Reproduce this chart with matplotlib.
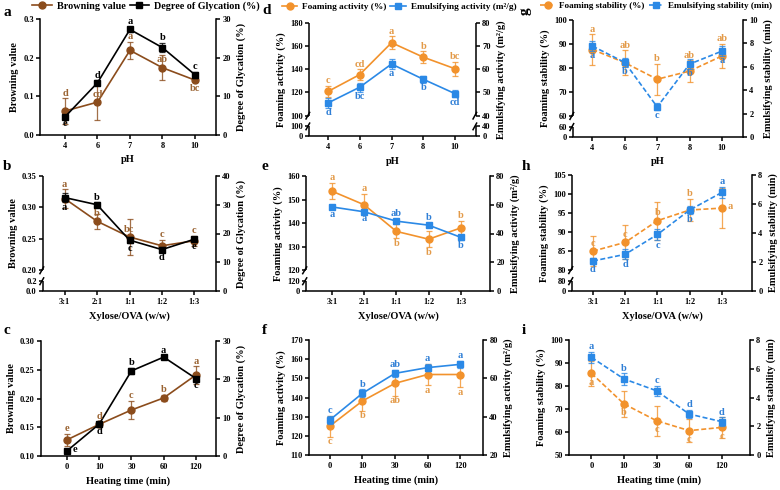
import numpy as np
import matplotlib.pyplot as plt

plt.rcParams['font.family'] = ['Liberation Serif', 'DejaVu Serif']
plt.rcParams['font.weight'] = 'bold'
plt.rcParams['axes.labelweight'] = 'bold'
plt.rcParams['axes.linewidth'] = 1.1
plt.rcParams['xtick.major.width'] = 1.1
plt.rcParams['ytick.major.width'] = 1.1
plt.rcParams['xtick.major.size'] = 3
plt.rcParams['ytick.major.size'] = 3
plt.rcParams['xtick.major.pad'] = 2
plt.rcParams['ytick.major.pad'] = 1.5
plt.rcParams['xtick.labelsize'] = 6
plt.rcParams['ytick.labelsize'] = 6
plt.rcParams['axes.labelsize'] = 7.5

# colours
BROWN, BROWN_TXT = '#8b4c1c', '#9a6332'
ORANGE, ORANGE_TXT = '#f2922c', '#e39a48'
BLUE, BLUE_TXT = '#2b89e6', '#2f7fd6'

# x categories
ph = ['4', '6', '7', '8', '10']
ratio = ['3:1', '2:1', '1:1', '1:2', '1:3']
heat = ['0', '10', '30', '60', '120']

# a - browning / glycation vs pH
brown_ph = [0.062, 0.085, 0.219, 0.174, 0.142]
brown_ph_err = [0.033, 0.046, 0.022, 0.033, 0.006]
brown_ph_sig = ['d', 'cd', 'a', 'ab', 'bc']
dg_ph = [4.7, 13.5, 27.3, 22.6, 15.6]
dg_ph_err = [0.5, 0.6, 0.6, 1.2, 0.8]
dg_ph_sig = ['e', 'd', 'a', 'b', 'c']

# b - browning / glycation vs xylose:OVA
brown_ratio = [0.314, 0.278, 0.253, 0.239, 0.247]
brown_ratio_err = [0.015, 0.012, 0.029, 0.009, 0.008]
brown_ratio_sig = ['a', 'b', 'bc', 'c', 'c']
dg_ratio = [32.5, 30.0, 17.7, 14.4, 18.0]
dg_ratio_err = [1.5, 0.8, 1.0, 1.0, 0.8]
dg_ratio_sig = ['a', 'b', 'c', 'd', 'e']

# c - browning / glycation vs heating time
brown_heat = [0.128, 0.155, 0.180, 0.201, 0.241]
brown_heat_err = [0.010, 0.005, 0.016, 0.005, 0.015]
brown_heat_sig = ['e', 'd', 'c', 'b', 'a']
dg_heat = [1.3, 8.3, 22.2, 25.8, 20.2]
dg_heat_err = [0.5, 0.5, 0.8, 0.4, 0.5]
dg_heat_sig = ['e', 'd', 'b', 'a', 'c']

# d - foaming / emulsifying activity vs pH
fa_ph = [120.9, 135.5, 163.0, 150.5, 140.5]
fa_ph_err = [5.0, 4.5, 5.5, 5.0, 6.0]
fa_ph_sig = ['c', 'cd', 'a', 'b', 'bc']
ea_ph = [45.5, 52.3, 62.3, 55.7, 49.5]
ea_ph_err = [2.0, 2.0, 2.0, 1.5, 1.5]
ea_ph_sig = ['d', 'bc', 'a', 'b', 'cd']

# e - foaming / emulsifying activity vs xylose:OVA
fa_ratio = [153.6, 147.8, 136.5, 133.2, 138.0]
fa_ratio_err = [3.5, 4.5, 3.0, 3.5, 3.0]
fa_ratio_sig = ['a', 'a', 'b', 'b', 'b']
ea_ratio = [58.5, 55.1, 48.6, 45.8, 37.3]
ea_ratio_err = [1.5, 1.2, 1.5, 1.5, 2.0]
ea_ratio_sig = ['a', 'a', 'ab', 'b', 'b']

# f - foaming / emulsifying activity vs heating time
fa_heat = [125.1, 138.2, 147.4, 152.0, 152.0]
fa_heat_err = [5.5, 5.0, 6.5, 5.5, 6.5]
fa_heat_sig = ['c', 'b', 'ab', 'a', 'a']
ea_heat = [38.3, 52.2, 62.6, 65.6, 67.3]
ea_heat_err = [2.0, 2.0, 2.0, 2.0, 2.0]
ea_heat_sig = ['c', 'b', 'ab', 'a', 'a']

# g - foaming / emulsifying stability vs pH
fs_ph = [87.7, 82.2, 75.3, 78.7, 85.0]
fs_ph_err = [6.3, 5.2, 6.5, 4.5, 5.2]
fs_ph_sig = ['a', 'ab', 'b', 'ab', 'ab']
es_ph = [7.77, 6.37, 2.57, 6.23, 7.34]
es_ph_err = [0.4, 0.35, 0.3, 0.4, 0.4]
es_ph_sig = ['a', 'b', 'c', 'b', 'a']

# h - foaming / emulsifying stability vs xylose:OVA
fs_ratio = [85.0, 87.3, 93.0, 95.8, 96.3]
fs_ratio_err = [4.0, 4.5, 5.0, 3.0, 5.2]
fs_ratio_sig = ['c', 'c', 'b', 'b', 'a']
es_ratio = [2.07, 2.53, 3.9, 5.59, 6.8]
es_ratio_err = [0.2, 0.35, 0.4, 0.3, 0.4]
es_ratio_sig = ['d', 'd', 'c', 'b', 'a']

# i - foaming / emulsifying stability vs heating time
fs_heat = [85.5, 72.2, 64.9, 60.6, 62.0]
fs_heat_err = [5.5, 5.5, 6.5, 5.0, 4.5]
fs_heat_sig = ['a', 'b', 'c', 'c', 'c']
es_heat = [6.79, 5.29, 4.47, 2.85, 2.32]
es_heat_err = [0.4, 0.4, 0.35, 0.3, 0.3]
es_heat_sig = ['a', 'b', 'c', 'd', 'd']

F_LO, F_HI = 0.085, 0.18   # broken axes: top of the lower stub, bottom of the upper part
W, H = 780, 490

fig = plt.figure(figsize=(W / 100, H / 100), dpi=100)


def rect(l, t, r, b):
    return [l / W, 1 - b / H, (r - l) / W, (b - t) / H]


def labels(ticks, d):
    return [f'{t:.{d}f}' for t in ticks]


def set_y(ax, lo, hi, ticks, d, brk=None, low_ticks=(), low_d=0, side='left'):
    if brk is None:
        ax.set_ylim(lo, hi)
        ax.set_yticks(ticks, labels(ticks, d))
        return
    eps = (hi - brk) * 1e-6
    xs = [2 * lo - brk, lo, brk, brk + eps, hi, 2 * hi - brk]
    fs = [-F_LO, 0, F_LO, F_HI, 1, 2 - F_HI]
    ax.set_yscale('function', functions=(lambda v: np.interp(v, xs, fs),
                                         lambda f: np.interp(f, fs, xs)))
    ax.set_ylim(lo, hi)
    up = [brk + eps] + list(ticks[1:])
    ax.set_yticks(list(low_ticks) + up, labels(low_ticks, low_d) + labels(ticks, d))
    # draw the split spine by hand
    x0 = 0 if side == 'left' else 1
    ax.spines[side].set_visible(False)
    kw = dict(transform=ax.transAxes, color='k', lw=1.1, clip_on=False, solid_capstyle='butt')
    ax.plot([x0, x0], [0, F_LO], **kw)
    ax.plot([x0, x0], [F_HI, 1], **kw)
    for y in (F_LO, F_HI):
        ax.plot([x0 - 0.02, x0 + 0.006], [y - 0.035, y + 0.035], **kw)


def series(ax, top, vals, errs, sig, where, color, txt, marker, ls, label):
    x = np.arange(len(vals))
    ax.errorbar(x, vals, yerr=errs, fmt='none', ecolor=color, elinewidth=0.9,
                capsize=2.2, capthick=0.9, alpha=0.8, zorder=3)
    line, = ax.plot(x, vals, color=color, marker=marker, ms=5, lw=1.2, ls=ls,
                    label=label, zorder=4)
    if ls == '--':
        line.set_dashes((3, 1.5))
    # letters go on the upper (twin) axes so no line hides them
    for xi, v, e, s, w in zip(x, vals, errs, sig, where):
        if w == 'u':
            xy, off, ha, va = (xi, v + e), (0, 0.5), 'center', 'bottom'
        elif w == 'd':
            xy, off, ha, va = (xi, v - e), (0, -0.5), 'center', 'top'
        elif w == 'U':
            xy, off, ha, va = (xi, v), (0, 2.5), 'center', 'bottom'
        elif w == 'D':
            xy, off, ha, va = (xi, v), (0, -3), 'center', 'top'
        else:
            xy, off, ha, va = (xi, v), (4, 1), 'left', 'center'
        top.annotate(s, xy, xycoords=ax.transData, xytext=off, textcoords='offset points',
                     ha=ha, va=va, color=txt, fontsize=7.5, fontweight='bold', zorder=6)
    return line


def make_panel(box, xlim, cats, xlabel, letter, lpos, rot=0):
    ax = fig.add_axes(rect(*box))
    tw = ax.twinx()
    ax.set_xlim(*xlim)
    ax.set_xticks(range(len(cats)), cats)
    ax.set_xlabel(xlabel, labelpad=4)
    ax.spines['top'].set_visible(False)
    ax.spines['right'].set_visible(False)
    for s in ('top', 'left', 'bottom'):
        tw.spines[s].set_visible(False)
    fig.text(lpos[0] / W, 1 - lpos[1] / H, letter, fontsize=11, fontweight='bold',
             ha='left', va='center', rotation=rot)
    return ax, tw


def legend(handles, cx, cy, size=7, hl=1.9):
    fig.legend(handles, [h.get_label() for h in handles], loc='center',
               bbox_to_anchor=(cx / W, 1 - cy / H), ncol=2, frameon=False, fontsize=size,
               handlelength=hl, handletextpad=0.5, columnspacing=0.4, borderaxespad=0)


# ---- column 1
ax, tw = make_panel((40, 19, 216, 135), (-0.77, 4.65), ph, 'pH', 'a', (3, 12))
set_y(ax, 0, 0.3, [0, 0.1, 0.2, 0.3], 1)
set_y(tw, 0, 30, [0, 10, 20, 30], 0)
h1 = series(ax, tw, brown_ph, brown_ph_err, brown_ph_sig, 'uUuUD', BROWN, BROWN_TXT, 'o', '-', 'Browning value')
h2 = series(tw, tw, dg_ph, dg_ph_err, dg_ph_sig, 'duuuu', 'k', 'k', 's', '-', 'Degree of Glycation (%)')
ax.set_ylabel('Browning value', labelpad=3)
tw.set_ylabel('Degree of Glycation (%)', labelpad=4)
legend([h1, h2], 146, 6, 7.3)

ax, tw = make_panel((43, 176, 216, 291), (-0.67, 4.67), ratio, 'Xylose/OVA (w/w)', 'b', (3, 166))
set_y(ax, 0, 0.35, [0.20, 0.25, 0.30, 0.35], 2, brk=0.2, low_ticks=[0.0, 0.2], low_d=1)
set_y(tw, 0, 40, [0, 10, 20, 30, 40], 0)
series(ax, tw, brown_ratio, brown_ratio_err, brown_ratio_sig, 'uUUuu', BROWN, BROWN_TXT, 'o', '-', 'Browning value')
series(tw, tw, dg_ratio, dg_ratio_err, dg_ratio_sig, 'duddd', 'k', 'k', 's', '-', 'Degree of Glycation (%)')
ax.set_ylabel('Browning value', labelpad=3)
tw.set_ylabel('Degree of Glycation (%)', labelpad=4)

ax, tw = make_panel((41, 341, 216, 456), (-0.8, 4.62), heat, 'Heating time (min)', 'c', (3, 331))
set_y(ax, 0.10, 0.30, [0.10, 0.15, 0.20, 0.25, 0.30], 2)
set_y(tw, 0, 30, [0, 10, 20, 30], 0)
series(ax, tw, brown_heat, brown_heat_err, brown_heat_sig, 'uuuuu', BROWN, BROWN_TXT, 'o', '-', 'Browning value')
series(tw, tw, dg_heat, dg_heat_err, dg_heat_sig, 'rduud', 'k', 'k', 's', '-', 'Degree of Glycation (%)')
ax.set_ylabel('Browning value', labelpad=3)
tw.set_ylabel('Degree of Glycation (%)', labelpad=4)

# ---- column 2
ax, tw = make_panel((309, 23, 476, 136), (-0.6, 4.66), ph, 'pH', 'd', (262, 11))
set_y(ax, 0, 180, [100, 120, 140, 160, 180], 0, brk=100, low_ticks=[0, 100])
set_y(tw, 0, 80, [40, 50, 60, 70, 80], 0, brk=40, low_ticks=[0, 40], side='right')
h1 = series(ax, tw, fa_ph, fa_ph_err, fa_ph_sig, 'uuuuu', ORANGE, ORANGE_TXT, 'o', '-', 'Foaming activity (%)')
h2 = series(tw, tw, ea_ph, ea_ph_err, ea_ph_sig, 'ddddd', BLUE, BLUE_TXT, 's', '-', 'Emulsifying activity (m²/g)')
ax.set_ylabel('Foaming activity (%)', labelpad=3)
tw.set_ylabel('Emulsifying activity (m²/g)', labelpad=4)
legend([h1, h2], 399, 7, 6.7, 1.7)

ax, tw = make_panel((306, 176, 490, 291), (-0.8, 4.9), ratio, 'Xylose/OVA (w/w)', 'e', (262, 167))
set_y(ax, 0, 160, [120, 130, 140, 150, 160], 0, brk=120, low_ticks=[0, 120])
set_y(tw, 0, 80, [0, 20, 40, 60, 80], 0)
series(ax, tw, fa_ratio, fa_ratio_err, fa_ratio_sig, 'uuddu', ORANGE, ORANGE_TXT, 'o', '-', 'Foaming activity (%)')
series(tw, tw, ea_ratio, ea_ratio_err, ea_ratio_sig, 'dduud', BLUE, BLUE_TXT, 's', '-', 'Emulsifying activity (m²/g)')
ax.set_ylabel('Foaming activity (%)', labelpad=3)
tw.set_ylabel('Emulsifying activity (m²/g)', labelpad=4)

ax, tw = make_panel((309, 340, 483, 455), (-0.64, 4.7), heat, 'Heating time (min)', 'f', (262, 330))
set_y(ax, 110, 170, [110, 120, 130, 140, 150, 160, 170], 0)
set_y(tw, 20, 80, [20, 40, 60, 80], 0)
series(ax, tw, fa_heat, fa_heat_err, fa_heat_sig, 'ddddd', ORANGE, ORANGE_TXT, 'o', '-', 'Foaming activity (%)')
series(tw, tw, ea_heat, ea_heat_err, ea_heat_sig, 'uuuuu', BLUE, BLUE_TXT, 's', '-', 'Emulsifying activity (m²/g)')
ax.set_ylabel('Foaming activity (%)', labelpad=3)
tw.set_ylabel('Emulsifying activity (m²/g)', labelpad=4)

# ---- column 3
ax, tw = make_panel((573, 20, 743, 137), (-0.6, 4.65), ph, 'pH', 'g', (519, 11), rot=90)
set_y(ax, 0, 100, [60, 70, 80, 90, 100], 0, brk=60, low_ticks=[0, 60])
set_y(tw, 0, 10, [0, 2, 4, 6, 8, 10], 0)
h1 = series(ax, tw, fs_ph, fs_ph_err, fs_ph_sig, 'uuuuu', ORANGE, ORANGE_TXT, 'o', '--', 'Foaming stability (%)')
h2 = series(tw, tw, es_ph, es_ph_err, es_ph_sig, 'ddddd', BLUE, BLUE_TXT, 's', '--', 'Emulsifying stability (min)')
ax.set_ylabel('Foaming stability (%)', labelpad=3)
tw.set_ylabel('Emulsifying stability (min)', labelpad=4)
legend([h1, h2], 656, 6, 6.6, 1.6)

ax, tw = make_panel((572, 175, 752, 291), (-0.65, 4.93), ratio, 'Xylose/OVA (w/w)', 'h', (522, 167))
set_y(ax, 0, 105, [80, 85, 90, 95, 100, 105], 0, brk=80, low_ticks=[0, 80])
set_y(tw, 0, 8, [0, 2, 4, 6, 8], 0)
series(ax, tw, fs_ratio, fs_ratio_err, fs_ratio_sig, 'UUUur', ORANGE, ORANGE_TXT, 'o', '--', 'Foaming stability (%)')
series(tw, tw, es_ratio, es_ratio_err, es_ratio_sig, 'ddddu', BLUE, BLUE_TXT, 's', '--', 'Emulsifying stability (min)')
ax.set_ylabel('Foaming stability (%)', labelpad=3)
tw.set_ylabel('Emulsifying stability (min)', labelpad=4)

ax, tw = make_panel((569, 340, 750, 455), (-0.69, 4.87), heat, 'Heating time (min)', 'i', (522, 330))
set_y(ax, 50, 100, [50, 60, 70, 80, 90, 100], 0)
set_y(tw, 0, 8, [0, 2, 4, 6, 8], 0)
series(ax, tw, fs_heat, fs_heat_err, fs_heat_sig, 'DDDDD', ORANGE, ORANGE_TXT, 'o', '--', 'Foaming stability (%)')
series(tw, tw, es_heat, es_heat_err, es_heat_sig, 'uuuuu', BLUE, BLUE_TXT, 's', '--', 'Emulsifying stability (min)')
ax.set_ylabel('Foaming stability (%)', labelpad=3)
tw.set_ylabel('Emulsifying stability (min)', labelpad=4)

fig.savefig('out.png', dpi=100)
